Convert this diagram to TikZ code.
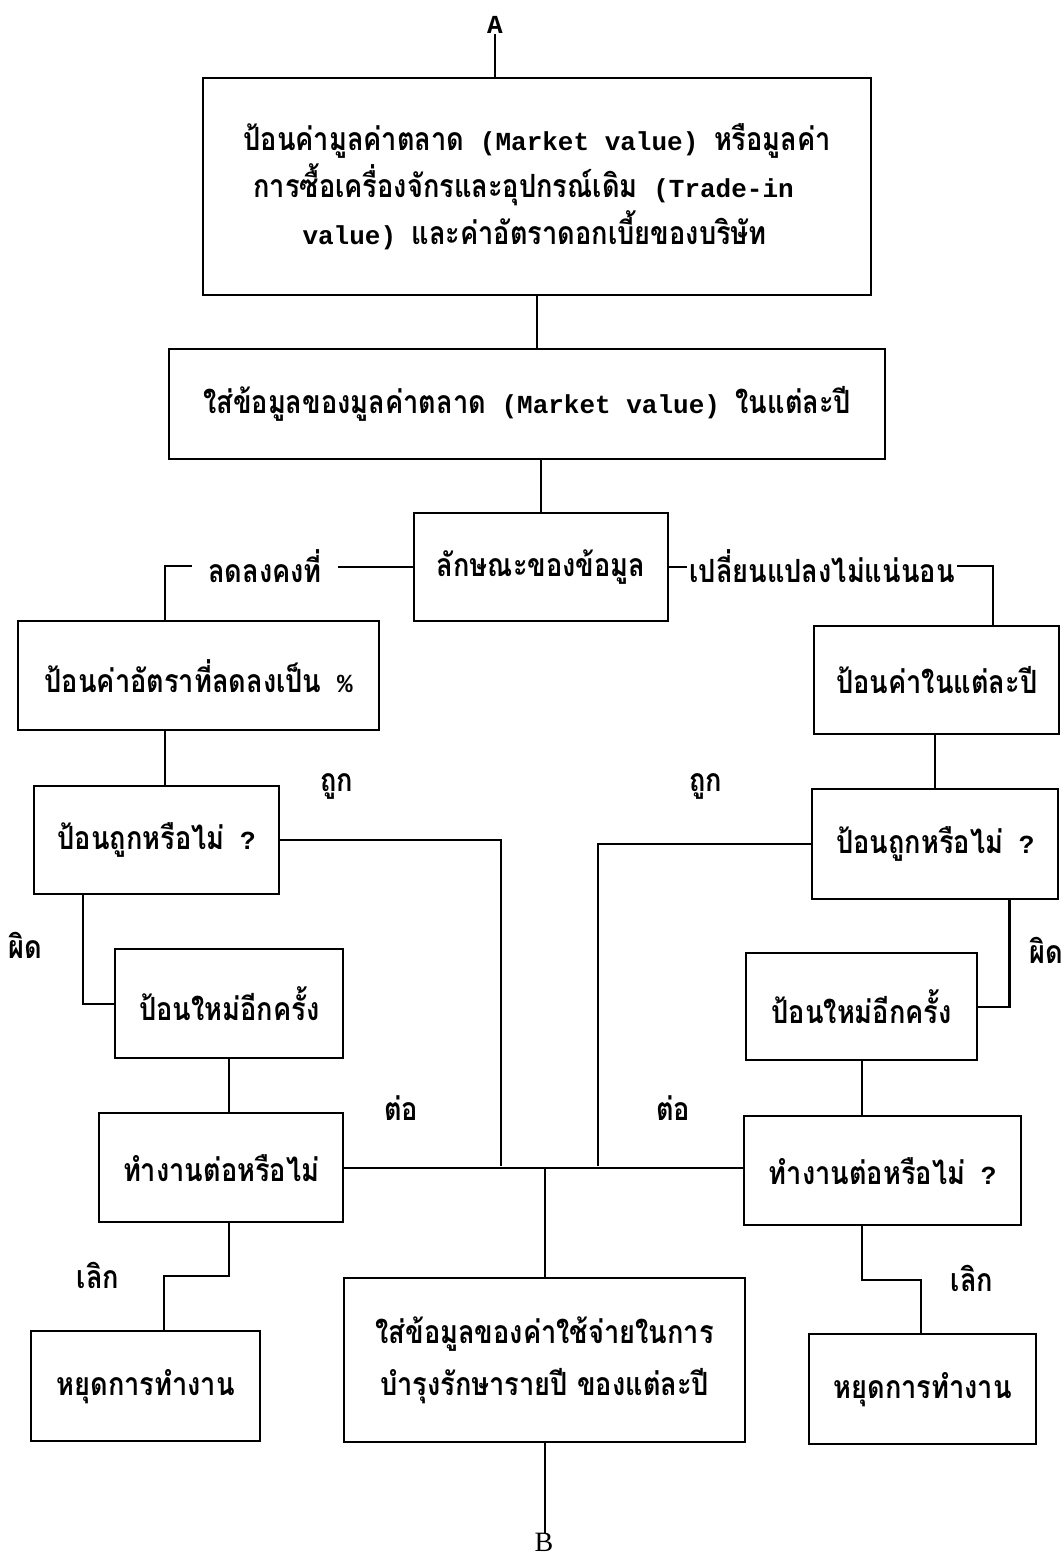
\documentclass[tikz,border=0pt]{standalone}
\usepackage{fontspec}
\usetikzlibrary{calc}
\newfontfamily\thaif[Script=Thai,FakeStretch=0.85]{Loma}
\newfontfamily\monof{Liberation Mono}
\newfontfamily\serf{Liberation Serif}
\newcommand\TT[1]{{\thaif\bfseries\fontsize{32}{40}\selectfont #1}}
\newcommand\LL[1]{{\monof\bfseries\fontsize{26}{40}\selectfont #1}}
\begin{document}
\begin{tikzpicture}[x=1pt,y=-1pt,
  box/.style={draw, line width=2.4pt, inner sep=0pt, anchor=north west, align=center,
              font=\fontsize{26}{52}\selectfont},
  conn/.style={line width=2.4pt},
  lbl/.style={inner sep=0pt}]
\fill[white] (0,0) rectangle (1062,1560);
\useasboundingbox (0,0) rectangle (1062,1560);

% end labels
\node[lbl] (lblA) at (495,25) {\LL{A}};
\node[lbl] (lblB) at (544,1542) {{\serf\fontsize{28}{30}\selectfont B}};

% boxes
\node[box, minimum width=668pt, minimum height=217pt, align=left,
      font=\fontsize{26}{47}\selectfont] (b1) at (202,77)
  {\TT{ป้อนค่ามูลค่าตลาด}\LL{ (Market value) }\TT{หรือมูลค่า}\\
   \hspace*{10pt}\TT{การซื้อเครื่องจักรและอุปกรณ์เดิม}\LL{ (Trade-in}\\
   \hspace*{59pt}\LL{value) }\TT{และค่าอัตราดอกเบี้ยของบริษัท}};
\node[box, minimum width=716pt, minimum height=110pt] (b2) at (168,348)
  {\TT{ใส่ข้อมูลของมูลค่าตลาด}\LL{ (Market value) }\TT{ในแต่ละปี}};
\node[box, minimum width=254pt, minimum height=108pt] (b3) at (413,512)
  {\TT{ลักษณะของข้อมูล}};
\node[box, minimum width=361pt, minimum height=109pt] (b4) at (17,620)
  {\TT{ป้อนค่าอัตราที่ลดลงเป็น}\LL{ \%}};
\node[box, minimum width=245pt, minimum height=108pt] (b5) at (813,625)
  {\TT{ป้อนค่าในแต่ละปี}};
\node[box, minimum width=245pt, minimum height=108pt] (b6) at (33,785)
  {\TT{ป้อนถูกหรือไม่}\LL{ ?}};
\node[box, minimum width=246pt, minimum height=110pt] (b7) at (811,788)
  {\TT{ป้อนถูกหรือไม่}\LL{ ?}};
\node[box, minimum width=228pt, minimum height=109pt] (b8) at (114,948)
  {\TT{ป้อนใหม่อีกครั้ง}};
\node[box, minimum width=231pt, minimum height=107pt] (b9) at (745,952)
  {\TT{ป้อนใหม่อีกครั้ง}};
\node[box, minimum width=244pt, minimum height=109pt] (b10) at (98,1112)
  {\TT{ทำงานต่อหรือไม่}};
\node[box, minimum width=277pt, minimum height=109pt] (b11) at (743,1115)
  {\TT{ทำงานต่อหรือไม่}\LL{ ?}};
\node[box, minimum width=401pt, minimum height=164pt] (b12) at (343,1277)
  {\TT{ใส่ข้อมูลของค่าใช้จ่ายในการ}\\\TT{บำรุงรักษารายปี ของแต่ละปี}};
\node[box, minimum width=229pt, minimum height=110pt] (b13) at (30,1330)
  {\TT{หยุดการทำงาน}};
\node[box, minimum width=227pt, minimum height=110pt] (b14) at (808,1333)
  {\TT{หยุดการทำงาน}};

% branch labels on lines
\node[lbl, inner xsep=16pt] (lbL) at (265,566) {\TT{ลดลงคงที่}};
\node[lbl, inner xsep=2pt] (lbR) at (822,566) {\TT{เปลี่ยนแปลงไม่แน่นอน}};

% free labels
\node[lbl] (tL) at (337,786) {\TT{ถูก}};
\node[lbl] (tR) at (706,786) {\TT{ถูก}};
\node[lbl] (fL) at (25,945) {\TT{ผิด}};
\node[lbl] (fR) at (1046,950) {\TT{ผิด}};
\node[lbl] (cL) at (401,1108) {\TT{ต่อ}};
\node[lbl] (cR) at (673,1108) {\TT{ต่อ}};
\node[lbl] (sL) at (98,1275) {\TT{เลิก}};
\node[lbl] (sR) at (972,1278) {\TT{เลิก}};

% helper coordinates
\coordinate (jl) at (165,566);
\coordinate (jr) at (993,566);
\coordinate (tl) at (501,1166);
\coordinate (tr) at (598,1166);
\coordinate (q1) at (164,1276);
\coordinate (q2) at (921,1280);

% connectors
\draw[conn] (lblA.south) -- (lblA.south |- b1.north);
\draw[conn] (b1.south) -- (b1.south |- b2.north);
\draw[conn] (b3.north |- b2.south) -- (b3.north);
\draw[conn] (b3.west) -- (b3.west -| lbL.east);
\draw[conn] (lbL.west) -- (jl) -- (jl |- b4.north);
\draw[conn] (b3.east) -- (b3.east -| lbR.west);
\draw[conn] (lbR.east) -- (jr) -- (jr |- b5.north);
\draw[conn] (b4.south -| jl) -- (b6.north -| jl);
\draw[conn] (b7.north |- b5.south) -- (b7.north);
\draw[conn] (b6.east) -| (tl);
\draw[conn] (b7.west) -| (tr);
\draw[conn] ($(b6.south west)+(50,0)$) |- (b8.west);
\draw[conn] ($(b7.south east)+(-50,0)$) |- (b9.east);
\draw[conn] (b8.south) -- (b8.south |- b10.north);
\draw[conn] (b9.south) -- (b9.south |- b11.north);
\draw[conn] (b10.east) -- (b10.east -| b11.west);
\draw[conn] (b12.north |- b10.east) -- (b12.north);
\draw[conn] (b10.south -| b8.south) |- (q1) -- (q1 |- b13.north);
\draw[conn] (b11.south -| b9.south) |- (q2) -- (q2 |- b14.north);
\draw[conn] (b12.south) -- (b12.south |- lblB.north);
\end{tikzpicture}
\end{document}
